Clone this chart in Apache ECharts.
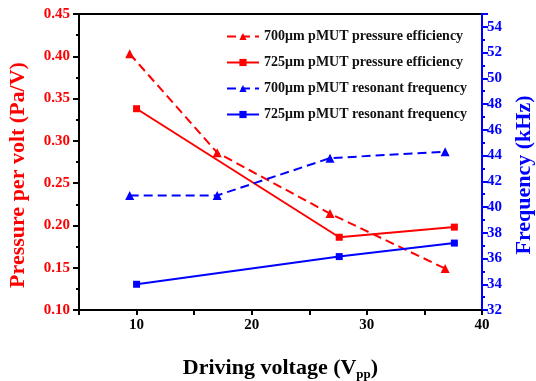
<!DOCTYPE html>
<html>
<head>
<meta charset="utf-8">
<script src="https://cdn.jsdelivr.net/npm/echarts@6/dist/echarts.min.js"></script>
<style>
  html, body { margin: 0; padding: 0; background: #fff; }
  #chart { width: 536px; height: 381px; }
</style>
</head>
<body>
<div id="chart"></div>
<script>
// driving voltage (Vpp) for each device
const voltage700 = [9.4, 17, 26.8, 36.8];
const voltage725 = [10, 27.6, 37.6];
// pressure per volt (Pa/V)
const pressure700 = [0.403, 0.286, 0.214, 0.149];
const pressure725 = [0.338, 0.186, 0.198];
// resonant frequency (kHz)
const freq700 = [40.9, 40.9, 43.8, 44.3];
const freq725 = [34.0, 36.15, 37.2];

const seriesNames = [
  '700μm pMUT pressure efficiency',
  '725μm pMUT pressure efficiency',
  '700μm pMUT resonant frequency',
  '725μm pMUT resonant frequency'
];

const pairs = (xs, ys) => xs.map((x, i) => [x, ys[i]]);

const RED = '#ff0000';
const BLUE = '#0000ff';
const FONT = '"Liberation Serif", "Times New Roman", serif';
const dash = [9, 5];

const chart = echarts.init(document.getElementById('chart'));

const option = {
  backgroundColor: '#fff',
  animation: false,
  textStyle: { fontFamily: FONT },
  grid: {
    left: 79,
    right: 54,
    top: 14,
    bottom: 71,
    outerBoundsMode: 'none',
    containLabel: false,
    show: true,
    borderColor: '#000',
    borderWidth: 2
  },
  legend: {
    orient: 'vertical',
    left: 221,
    top: 24,
    itemWidth: 32,
    itemHeight: 9,
    itemGap: 11,
    data: seriesNames,
    textStyle: {
      fontFamily: FONT,
      fontWeight: 'bold',
      fontSize: 14,
      color: '#111',
      lineHeight: 15
    }
  },
  xAxis: {
    type: 'value',
    min: 5,
    max: 40,
    interval: 5,
    name: 'Driving voltage (V{sub|pp})',
    nameLocation: 'middle',
    nameGap: 46,
    nameTextStyle: {
      fontFamily: FONT,
      fontWeight: 'bold',
      fontSize: 22,
      color: '#000',
      rich: {
        sub: {
          fontFamily: FONT,
          fontWeight: 'bold',
          fontSize: 13,
          color: '#000',
          padding: [12, 0, 0, 0]
        }
      }
    },
    axisLine: { onZero: false, lineStyle: { color: '#000', width: 2 } },
    axisTick: { length: 5, lineStyle: { color: '#000', width: 2 } },
    axisLabel: {
      fontFamily: FONT,
      fontWeight: 'bold',
      fontSize: 15,
      color: '#000',
      margin: 8,
      formatter: v => (v % 10 === 0 ? String(v) : '')
    },
    splitLine: { show: false }
  },
  yAxis: [
    {
      type: 'value',
      position: 'left',
      min: 0.1,
      max: 0.45,
      interval: 0.05,
      name: 'Pressure per volt (Pa/V)',
      nameLocation: 'middle',
      nameGap: 50,
      nameTextStyle: {
        fontFamily: FONT,
        fontWeight: 'bold',
        fontSize: 22,
        color: RED,
        padding: [0, 26, 0, 0]
      },
      axisLine: { show: true, onZero: false, lineStyle: { color: '#000', width: 2 } },
      axisTick: { length: 6, lineStyle: { color: '#000', width: 2 } },
      minorTick: { show: true, splitNumber: 2, length: 3, lineStyle: { color: '#000', width: 2 } },
      axisLabel: {
        fontFamily: FONT,
        fontWeight: 'bold',
        fontSize: 15,
        color: RED,
        margin: 9,
        formatter: v => v.toFixed(2)
      },
      splitLine: { show: false },
      minorSplitLine: { show: false }
    },
    {
      type: 'value',
      position: 'right',
      min: 32,
      max: 55,
      interval: 2,
      name: 'Frequency (kHz)',
      nameLocation: 'middle',
      nameGap: 31,
      nameRotate: 90,
      nameTextStyle: {
        fontFamily: FONT,
        fontWeight: 'bold',
        fontSize: 22,
        color: BLUE,
        padding: [0, 26, 0, 0]
      },
      axisLine: { show: true, onZero: false, lineStyle: { color: BLUE, width: 2 } },
      axisTick: { length: 6, lineStyle: { color: BLUE, width: 2 } },
      minorTick: { show: true, splitNumber: 2, length: 3, lineStyle: { color: BLUE, width: 2 } },
      axisLabel: {
        fontFamily: FONT,
        fontWeight: 'bold',
        fontSize: 15,
        color: BLUE,
        margin: 5,
        formatter: v => (v % 2 === 0 ? String(v) : '')
      },
      splitLine: { show: false },
      minorSplitLine: { show: false }
    }
  ],
  series: [
    {
      name: seriesNames[0],
      type: 'line',
      yAxisIndex: 0,
      data: pairs(voltage700, pressure700),
      symbol: 'triangle',
      symbolSize: 9,
      itemStyle: { color: RED },
      lineStyle: { color: RED, width: 2, type: dash }
    },
    {
      name: seriesNames[1],
      type: 'line',
      yAxisIndex: 0,
      data: pairs(voltage725, pressure725),
      symbol: 'rect',
      symbolSize: 7,
      itemStyle: { color: RED },
      lineStyle: { color: RED, width: 2 }
    },
    {
      name: seriesNames[2],
      type: 'line',
      yAxisIndex: 1,
      data: pairs(voltage700, freq700),
      symbol: 'triangle',
      symbolSize: 9,
      itemStyle: { color: BLUE },
      lineStyle: { color: BLUE, width: 2, type: dash }
    },
    {
      name: seriesNames[3],
      type: 'line',
      yAxisIndex: 1,
      data: pairs(voltage725, freq725),
      symbol: 'rect',
      symbolSize: 7,
      itemStyle: { color: BLUE },
      lineStyle: { color: BLUE, width: 2 }
    }
  ]
};

chart.setOption(option);
</script>
</body>
</html>
